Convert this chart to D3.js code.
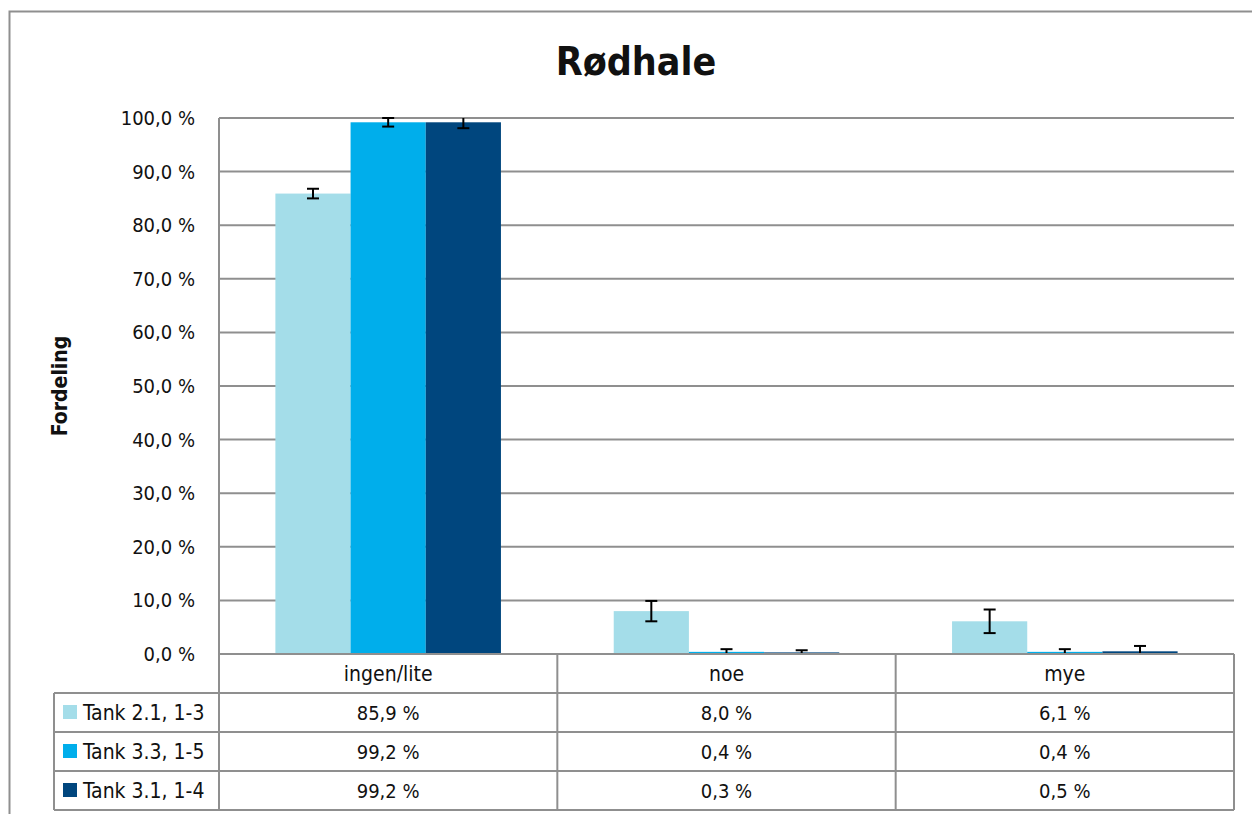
<!DOCTYPE html>
<html>
<head>
<meta charset="utf-8">
<script src="https://cdn.jsdelivr.net/npm/d3@7"></script>
<style>
  body { margin: 0; background: #fff; }
  svg text { font-family: "Liberation Sans Narrow", "DejaVu Sans Condensed", sans-serif; fill: #111; }
</style>
</head>
<body>
<div class="chart"></div>
<script>
const categories = ["ingen/lite", "noe", "mye"];
const seriesNames = ["Tank 2.1, 1-3", "Tank 3.3, 1-5", "Tank 3.1, 1-4"];
const tank21 = [85.9, 8.0, 6.1];
const tank33 = [99.2, 0.4, 0.4];
const tank31 = [99.2, 0.3, 0.5];
const err21 = [0.9, 1.9, 2.2];
const err33 = [0.8, 0.5, 0.5];
const err31 = [1.1, 0.4, 1.0];
const yTicks = [0, 10, 20, 30, 40, 50, 60, 70, 80, 90, 100];
const colors = ["#a4dde9", "#00aeeb", "#00467e"];

const values = [tank21, tank33, tank31];
const errors = [err21, err33, err31];

const width = 1252;
const height = 814;
const plotLeft = 219, plotRight = 1234, plotTop = 118, plotBottom = 654;
const rowH = 39;
const legendLeft = 54;
const gridColor = "#8f8f8f";

const svg = d3
  .select(".chart")
  .append("svg")
  .attr("width", width)
  .attr("height", height);

// outer chart border
svg
  .append("path")
  .attr("d", `M9.5,${height} V11.5 H${width}`)
  .attr("fill", "none")
  .attr("stroke", gridColor)
  .attr("stroke-width", 2);

svg
  .append("text")
  .attr("x", 636)
  .attr("y", 75)
  .attr("text-anchor", "middle")
  .style("font-size", "39px")
  .style("font-weight", "bold")
  .text("Rødhale");

svg
  .append("text")
  .attr("transform", "translate(67, 386) rotate(-90)")
  .attr("text-anchor", "middle")
  .style("font-size", "21px")
  .style("font-weight", "bold")
  .text("Fordeling");

const y = d3.scaleLinear().domain([0, 100]).range([plotBottom, plotTop]);
const x = d3.scaleBand().domain(categories).range([plotLeft, plotRight]);
const bw = x.bandwidth();
const xSub = d3
  .scaleBand()
  .domain(seriesNames)
  .range([bw / 6, bw * 5 / 6]);

// gridlines
svg
  .append("g")
  .selectAll("line")
  .data(yTicks)
  .join("line")
  .attr("x1", plotLeft)
  .attr("x2", plotRight)
  .attr("y1", d => y(d))
  .attr("y2", d => y(d))
  .attr("stroke", gridColor)
  .attr("stroke-width", 2);

// y tick labels
const fmt = v => d3.format(".1f")(v).replace(".", ",") + " %";
svg
  .append("g")
  .selectAll("text")
  .data(yTicks)
  .join("text")
  .attr("x", 195)
  .attr("y", d => y(d) + 7)
  .attr("text-anchor", "end")
  .style("font-size", "20px")
  .text(d => fmt(d));

// bars
const flat = [];
seriesNames.forEach((s, si) => {
  categories.forEach((c, ci) => {
    flat.push({ s, si, c, v: values[si][ci], e: errors[si][ci] });
  });
});

svg
  .append("g")
  .selectAll("rect")
  .data(flat)
  .join("rect")
  .attr("x", d => x(d.c) + xSub(d.s))
  .attr("y", d => y(d.v))
  .attr("width", xSub.bandwidth())
  .attr("height", d => y(0) - y(d.v))
  .attr("fill", d => colors[d.si]);

// error bars
const clampY = v => y(Math.max(0, Math.min(100, v)));
const eb = svg
  .append("g")
  .attr("stroke", "#000")
  .attr("stroke-width", 2)
  .selectAll("g")
  .data(flat)
  .join("g")
  .attr("transform", d => `translate(${x(d.c) + xSub(d.s) + xSub.bandwidth() / 2},0)`);
eb.append("line")
  .attr("y1", d => clampY(d.v + d.e))
  .attr("y2", d => clampY(d.v - d.e));
eb.filter(d => d.v + d.e <= 100)
  .append("line")
  .attr("x1", -6)
  .attr("x2", 6)
  .attr("y1", d => y(d.v + d.e))
  .attr("y2", d => y(d.v + d.e));
eb.filter(d => d.v - d.e >= 0)
  .append("line")
  .attr("x1", -6)
  .attr("x2", 6)
  .attr("y1", d => y(d.v - d.e))
  .attr("y2", d => y(d.v - d.e));

// data table
const table = svg.append("g").attr("stroke", gridColor).attr("stroke-width", 2);
const rowYs = [0, 1, 2, 3, 4].map(i => plotBottom + rowH * i);
rowYs.forEach((ry, i) => {
  table
    .append("line")
    .attr("x1", i === 0 ? plotLeft : legendLeft)
    .attr("x2", plotRight)
    .attr("y1", ry)
    .attr("y2", ry);
});
table
  .append("line")
  .attr("x1", plotLeft)
  .attr("x2", plotLeft)
  .attr("y1", plotTop)
  .attr("y2", rowYs[4]);
table
  .append("line")
  .attr("x1", legendLeft)
  .attr("x2", legendLeft)
  .attr("y1", rowYs[1])
  .attr("y2", rowYs[4]);
categories.forEach(c => {
  table
    .append("line")
    .attr("x1", x(c) + bw)
    .attr("x2", x(c) + bw)
    .attr("y1", plotBottom)
    .attr("y2", rowYs[4]);
});

svg
  .append("g")
  .selectAll("text")
  .data(categories)
  .join("text")
  .attr("x", d => x(d) + bw / 2)
  .attr("y", plotBottom + 27)
  .attr("text-anchor", "middle")
  .style("font-size", "21px")
  .text(d => d);

seriesNames.forEach((s, si) => {
  const ry = rowYs[si + 1];
  svg
    .append("rect")
    .attr("x", 63)
    .attr("y", ry + 12)
    .attr("width", 14)
    .attr("height", 14)
    .attr("fill", colors[si]);
  svg
    .append("text")
    .attr("x", 83)
    .attr("y", ry + 27)
    .style("font-size", "21px")
    .text(s);
  svg
    .append("g")
    .selectAll("text")
    .data(categories)
    .join("text")
    .attr("x", d => x(d) + bw / 2)
    .attr("y", ry + 27)
    .attr("text-anchor", "middle")
    .style("font-size", "20px")
    .text((d, ci) => fmt(values[si][ci]));
});
</script>
</body>
</html>
